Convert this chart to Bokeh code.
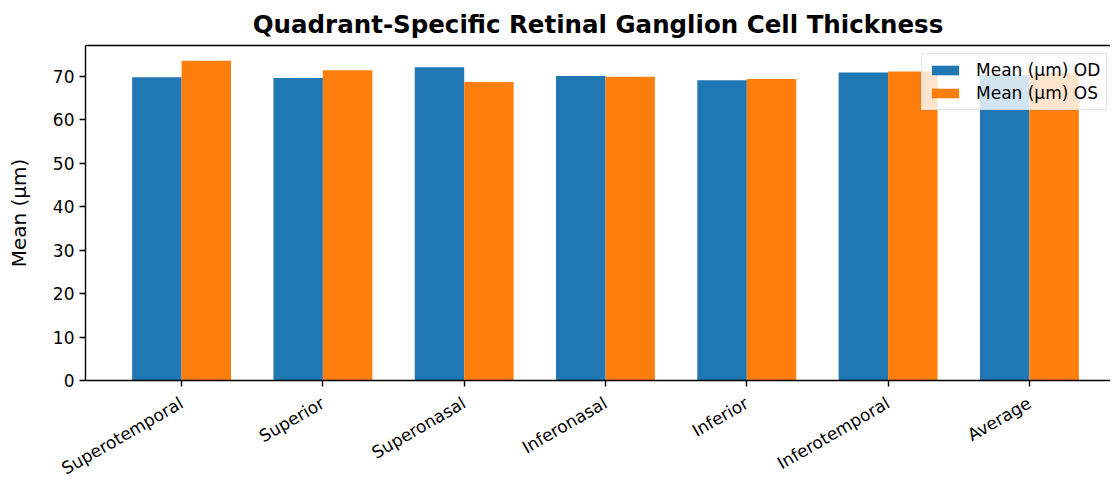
import math
import numpy as np
from bokeh.plotting import figure
from bokeh.models import FixedTicker, Range1d, LinearAxis, Legend, LegendItem, ColumnDataSource
from bokeh.embed import file_html
from bokeh.resources import INLINE

categories = ["Superotemporal", "Superior", "Superonasal", "Inferonasal", "Inferior", "Inferotemporal", "Average"]
mean_od = [69.8, 69.6, 72.1, 70.1, 69.1, 70.9, 70.3]
mean_os = [73.6, 71.4, 68.7, 69.9, 69.4, 71.1, 70.7]

FONT = "DejaVu Sans"
FS = "17px"
bar_w = 0.35
x = np.arange(len(categories))

src = ColumnDataSource(dict(x_od=x - bar_w / 2, x_os=x + bar_w / 2, od=mean_od, os=mean_os))

p = figure(frame_width=1025, frame_height=335, output_backend="svg", toolbar_location=None,
           x_range=Range1d(-0.68, 6.574), y_range=Range1d(0, 77.1),
           min_border_left=85, min_border_right=0, min_border_top=45, min_border_bottom=96)

p.title.text = "Quadrant-Specific Retinal Ganglion Cell Thickness"
p.title.text_font = FONT
p.title.text_font_size = "24.5px"
p.title.text_font_style = "bold"
p.title.text_color = "black"
p.title.align = "center"
p.title.offset = 0
p.title.standoff = 14

r_od = p.vbar(x="x_od", top="od", width=bar_w, source=src, fill_color="#1f77b4", line_color=None)
r_os = p.vbar(x="x_os", top="os", width=bar_w, source=src, fill_color="#ff7f0e", line_color=None)

p.grid.visible = False
p.outline_line_color = None
p.background_fill_color = "white"
p.border_fill_color = "white"

xa = p.xaxis[0]
xa.ticker = FixedTicker(ticks=list(range(len(categories))))
xa.major_label_overrides = {i: c for i, c in enumerate(categories)}
xa.major_label_orientation = math.pi / 6
xa.major_label_text_font = FONT
xa.major_label_text_font_size = FS
xa.major_label_text_color = "black"
xa.minor_tick_line_color = None
xa.major_tick_out = 6
xa.major_tick_in = 0
xa.major_label_standoff = 15
xa.axis_line_width = 1.4
xa.major_tick_line_width = 1.4

ya = p.yaxis[0]
ya.ticker = FixedTicker(ticks=[0, 10, 20, 30, 40, 50, 60, 70])
ya.axis_label = "Mean (µm)"
ya.axis_label_text_font = FONT
ya.axis_label_text_font_size = "20px"
ya.axis_label_text_font_style = "normal"
ya.axis_label_text_color = "black"
ya.major_label_text_font = FONT
ya.major_label_text_font_size = FS
ya.major_label_text_color = "black"
ya.minor_tick_line_color = None
ya.major_tick_out = 6
ya.major_tick_in = 0
ya.axis_line_width = 1.4
ya.major_tick_line_width = 1.4
ya.axis_label_standoff = 19

p.extra_x_ranges = {"top": Range1d(0, 1)}
top = LinearAxis(x_range_name="top", ticker=FixedTicker(ticks=[]), major_label_text_font_size="0px",
                 major_tick_line_color=None, minor_tick_line_color=None, axis_line_width=1.4,
                 major_label_standoff=0, major_tick_out=0)
p.add_layout(top, "above")

legend = Legend(items=[LegendItem(label="Mean (µm) OD", renderers=[r_od]),
                       LegendItem(label="Mean (µm) OS", renderers=[r_os])],
                location=(836, 270))
legend.label_text_font = FONT
legend.label_text_font_size = FS
legend.label_text_color = "black"
legend.glyph_width = 34
legend.glyph_height = 12
legend.spacing = 3
legend.padding = 6
legend.margin = 0
legend.label_standoff = 14
legend.label_height = 20
legend.background_fill_alpha = 0.8
legend.border_line_color = "#cccccc"
legend.border_line_width = 1
p.add_layout(legend)

open("out.html", "w").write(file_html(p, INLINE))
